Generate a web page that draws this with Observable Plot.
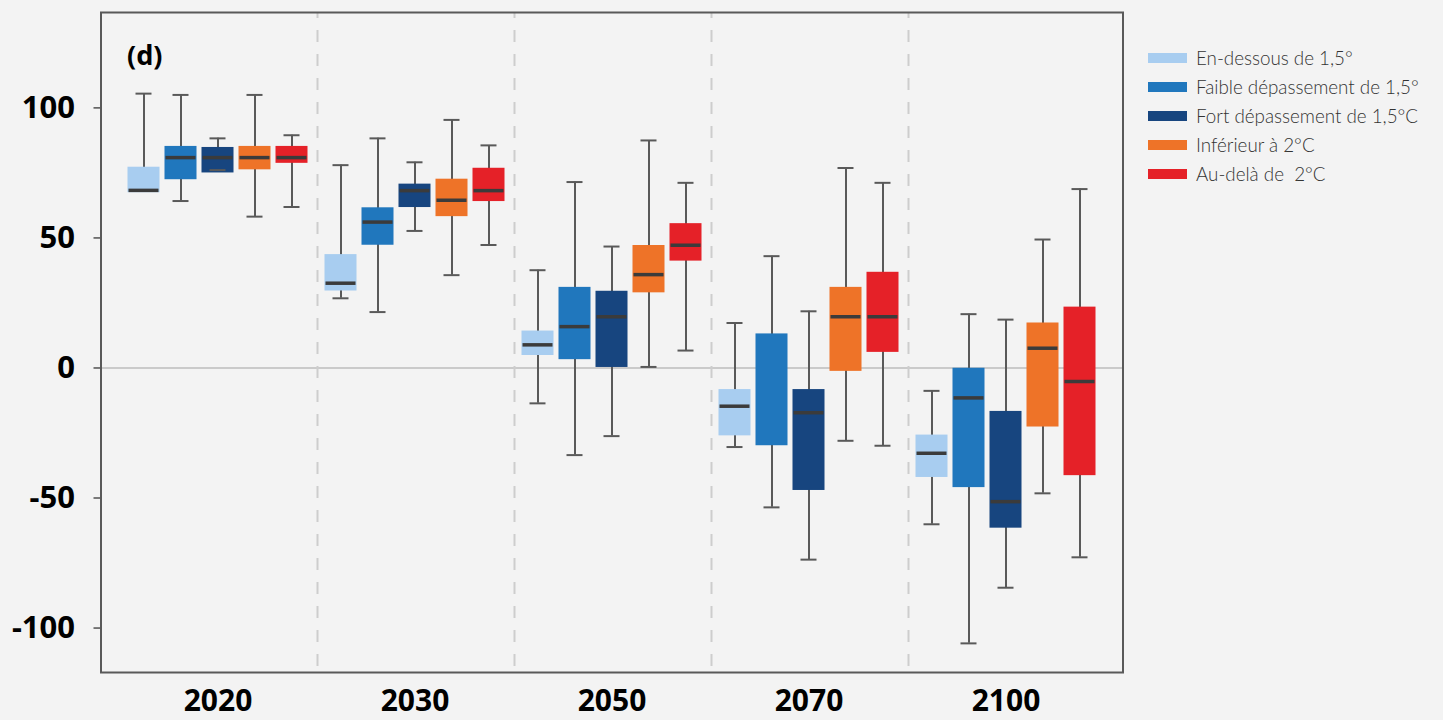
<!DOCTYPE html>
<html>
<head>
<meta charset="utf-8">
<script src="https://cdn.jsdelivr.net/npm/d3@7"></script>
<script src="https://cdn.jsdelivr.net/npm/@observablehq/plot@0.6"></script>
<style>
  html, body { margin: 0; padding: 0; background: #f3f3f3; }
  #wrap { position: relative; width: 1443px; height: 720px; background: #f3f3f3; overflow: hidden; }
  #panel { position: absolute; left: 127px; top: 36px; font-family: "Noto Sans", sans-serif; font-weight: 700; font-size: 27px; color: #000; }
  #legend { position: absolute; left: 1148px; top: 43px; font-family: "Lato", sans-serif; font-weight: 300; font-size: 18.8px; color: #333; }
  #legend .row { display: flex; align-items: center; height: 29px; white-space: pre; }
  #legend .sw { width: 39px; height: 10px; margin-right: 9px; flex: none; }
  g[aria-label="y-axis tick"] { stroke: #666; }
</style>
</head>
<body>
<div id="wrap">
  <div id="chart"></div>
  <div id="panel">(d)</div>
  <div id="legend"></div>
</div>
<script>
// Categories
const years = ["2020", "2030", "2050", "2070", "2100"];
const seriesNames = [
  "En-dessous de 1,5°",
  "Faible dépassement de 1,5°",
  "Fort dépassement de 1,5°C",
  "Inférieur à 2°C",
  "Au-delà de  2°C"
];
const seriesColors = ["#a8cdf0", "#2077bd", "#17457f", "#ee7328", "#e52128"];
const yTicks = [-100, -50, 0, 50, 100];

// Box statistics, one row per year, columns in seriesNames order
const whiskerMax = [
  [105.5, 105.0, 88.3, 105.0, 89.5],
  [78.0, 88.3, 79.1, 95.4, 85.6],
  [37.6, 71.5, 46.7, 87.5, 71.2],
  [17.3, 43.0, 21.8, 76.9, 71.2],
  [-8.8, 20.7, 18.6, 49.4, 68.8]
];
const quartile3 = [
  [77.2, 85.2, 84.8, 85.2, 85.2],
  [43.6, 61.6, 70.7, 72.6, 76.8],
  [14.2, 31.0, 29.5, 47.1, 55.5],
  [-8.3, 13.1, -8.3, 31.0, 36.8],
  [-25.8, -0.1, -16.7, 17.3, 23.4]
];
const medians = [
  [68.3, 80.9, 80.9, 80.9, 80.9],
  [32.6, 56.1, 68.2, 64.5, 68.2],
  [8.9, 15.9, 19.7, 35.9, 47.2],
  [-14.7, null, -17.2, 19.7, 19.7],
  [-32.8, -11.5, -51.4, 7.6, -5.2]
];
const quartile1 = [
  [67.4, 72.4, 75.0, 76.2, 78.7],
  [29.6, 47.2, 61.7, 58.2, 64.0],
  [4.8, 3.2, 0.2, 28.9, 41.1],
  [-26.1, -29.9, -47.1, -1.3, 6.0],
  [-42.1, -46.0, -61.6, -22.7, -41.4]
];
const whiskerMin = [
  [68.3, 64.2, 76.1, 58.2, 61.9],
  [26.8, 21.5, 52.7, 35.7, 47.3],
  [-13.6, -33.5, -26.2, 0.4, 6.7],
  [-30.4, -53.6, -73.7, -28.0, -29.9],
  [-60.1, -105.9, -84.5, -48.2, -72.8]
];

// Table built from the arrays
const rows = [];
years.forEach((year, i) => {
  seriesNames.forEach((series, j) => {
    rows.push({
      year, series,
      min: whiskerMin[i][j], q1: quartile1[i][j], median: medians[i][j],
      q3: quartile3[i][j], max: whiskerMax[i][j]
    });
  });
});

const whisker = "#595959";
const outerGap = 18.5;

const chart = Plot.plot({
  width: 1443,
  height: 720,
  marginLeft: 100 + outerGap,
  marginRight: 321 + outerGap,
  marginTop: 12,
  marginBottom: 48,
  style: {
    background: "#f3f3f3",
    fontFamily: "'Noto Sans', sans-serif",
    fontSize: "31px",
    fontWeight: 700,
    color: "#000",
    overflow: "visible"
  },
  facet: { data: rows, x: "year" },
  fx: { domain: years, paddingInner: 0, paddingOuter: 0, label: null },
  x: { domain: seriesNames, paddingInner: 0.147, paddingOuter: 0.2, axis: null },
  y: { domain: [-117.1, 136.7], label: null },
  color: { domain: seriesNames, range: seriesColors },
  marks: [
    Plot.ruleY([0], { stroke: "#cacaca", strokeWidth: 2, insetLeft: -outerGap, insetRight: -outerGap }),
    Plot.ruleX(rows, {
      filter: d => d.series === seriesNames[0] && d.year !== years[0],
      x: "series", dx: -23.5,
      stroke: "#cdcdcd", strokeWidth: 2, strokeDasharray: "12,12", strokeDashoffset: 6
    }),
    Plot.ruleX(rows, { x: "series", y1: "min", y2: "max", stroke: whisker, strokeWidth: 2 }),
    Plot.barY(rows, { x: "series", y1: "q1", y2: "q3", fill: "series" }),
    Plot.tickY(rows, { x: "series", y: "max", stroke: whisker, strokeWidth: 2, insetLeft: 8, insetRight: 8 }),
    Plot.tickY(rows, { x: "series", y: "min", stroke: whisker, strokeWidth: 2, insetLeft: 8, insetRight: 8 }),
    Plot.tickY(rows, {
      filter: d => d.median != null,
      x: "series", y: "median", stroke: "#3b3b3b", strokeWidth: 3.5, insetLeft: 1, insetRight: 1
    }),
    Plot.axisY({ ticks: yTicks, tickSize: 7, dx: -outerGap, tickFormat: () => "", label: null }),
    Plot.axisY({
      ticks: yTicks, tickSize: 0, tickPadding: 0, dx: -(outerGap + 26),
      tickFormat: d => String(d), label: null
    }),
    Plot.axisFx({ anchor: "bottom", tickSize: 0, tickPadding: 17, fontSize: 30, label: null }),
    Plot.frame({ stroke: "#595959", strokeWidth: 2, facet: "super", insetLeft: -outerGap, insetRight: -outerGap })
  ]
});
document.getElementById("chart").appendChild(chart);

// Legend
const legend = document.getElementById("legend");
seriesNames.forEach((name, i) => {
  const row = document.createElement("div");
  row.className = "row";
  const sw = document.createElement("span");
  sw.className = "sw";
  sw.style.background = seriesColors[i];
  const label = document.createElement("span");
  label.textContent = name;
  row.appendChild(sw);
  row.appendChild(label);
  legend.appendChild(row);
});
</script>
</body>
</html>
